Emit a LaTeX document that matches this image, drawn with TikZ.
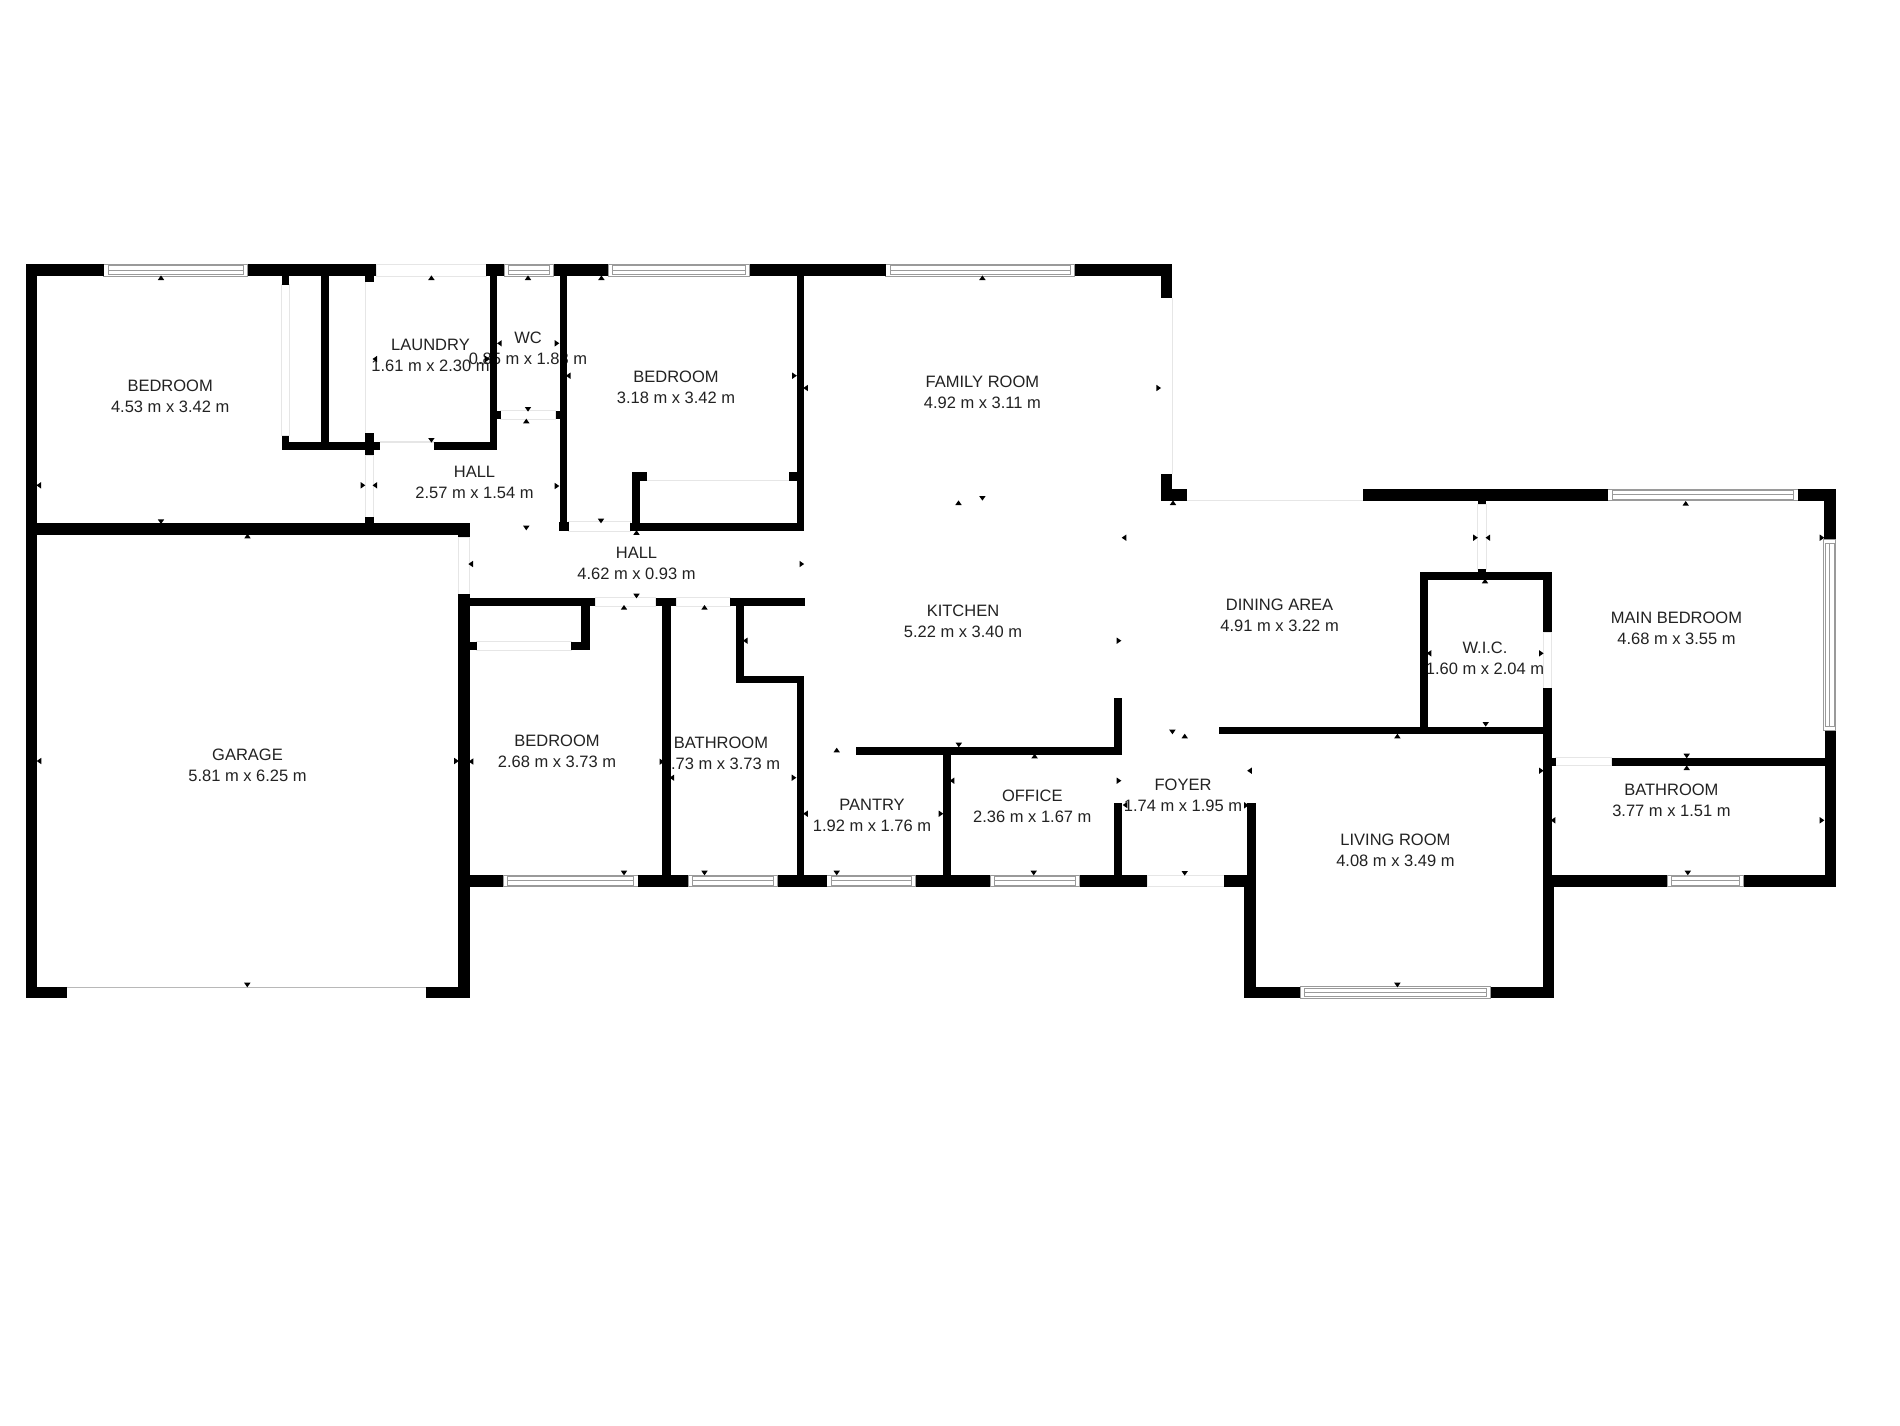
\documentclass[tikz,border=0pt]{standalone}
\usepackage{fontspec}
\setmainfont{Liberation Sans}
\definecolor{labelink}{HTML}{222222}
\definecolor{wingray}{HTML}{9A9A9A}
\definecolor{openline}{HTML}{E6E6E6}
\newcommand{\W}[4]{\fill[wall] (#1,#2) rectangle (#3,#4);}
\newcommand{\Op}[4]{\draw[opening] (#1,#2) rectangle (#3,#4);}
\newcommand{\WinH}[4]{%
  \draw[winframe] (#1,#2) rectangle (#3,#4);
  \draw[winframe] ({#1+4.5},{#2+1.5}) rectangle ({#3-4.5},{#4-1.5});
  \draw[winframe] ({#1+4.5},{(#2+#4)/2}) -- ({#3-4.5},{(#2+#4)/2});}
\newcommand{\WinV}[4]{%
  \draw[winframe] (#1,#2) rectangle (#3,#4);
  \draw[winframe] ({#1+1.5},{#2+4.5}) rectangle ({#3-1.5},{#4-4.5});
  \draw[winframe] ({(#1+#3)/2},{#2+4.5}) -- ({(#1+#3)/2},{#4-4.5});}
\tikzset{
  wall/.style={fill=black,draw=none},
  opening/.style={draw=openline,fill=white,line width=0.8pt},
  thinline/.style={draw=openline,line width=1.2pt},
  winframe/.style={draw=wingray,fill=white,line width=1pt},
  tick/.style={fill=black,draw=none},
  room/.style={inner sep=0pt,align=center,text=labelink,font=\fontsize{16.5}{21.2}\selectfont}
}
\begin{document}
\begin{tikzpicture}[x=1pt,y=-1pt]
\useasboundingbox (0,0) rectangle (1900,1425);
\fill[white] (0,0) rectangle (1900,1425);
% windows
\WinH{103.6}{264}{247.5}{276}
\WinH{504}{264}{553.6}{276}
\WinH{608}{264}{749.5}{276}
\WinH{885.5}{264}{1074.5}{276}
\WinH{503.4}{875}{638.3}{886.7}
\WinH{688}{875}{777.5}{886.7}
\WinH{826.6}{875}{915.7}{886.7}
\WinH{990}{875}{1079.6}{886.7}
\WinH{1607.7}{489}{1798}{500.7}
\WinH{1667.3}{875}{1743.9}{886.7}
\WinH{1300}{986.7}{1490.8}{998.3}
\WinV{1823.5}{539.3}{1835.7}{730.7}
% openings
\Op{376.4}{264}{486.4}{276}
\Op{281.5}{284.7}{289.4}{435.7}
\draw[thinline] (365.4,281.7) -- (365.4,433.3);
\draw[thinline] (379.6,442) -- (434,442);
\Op{500.6}{410.7}{555.5}{419}
\Op{365.4}{455.3}{373.7}{517.3}
\Op{458}{537.3}{469.8}{594.3}
\Op{568.6}{521.7}{630}{531}
\draw[thinline] (646.7,480.7) -- (789,480.7);
\Op{595}{597.7}{655.8}{606}
\Op{676}{597.7}{730}{606}
\Op{476.7}{641.7}{571}{650}
\draw[thinline] (1172.2,298.3) -- (1172.2,474.3);
\draw[thinline] (1186.7,500.4) -- (1362.8,500.4);
\Op{1477.6}{504.3}{1486}{569}
\Op{1542.9}{632.3}{1551.5}{688.3}
\Op{1555.6}{757.7}{1611.7}{765.7}
\Op{1147}{875}{1224}{886.7}
\draw[wingray!70,line width=1pt] (66.7,987) -- (426,987);
% room labels
\node[room] (bedroomA) at (170.2,396) {BEDROOM\\4.53 m x 3.42 m};
\node[room] (laundry) at (430.5,355.5) {LAUNDRY\\1.61 m x 2.30 m};
\node[room] (wc) at (528,348) {WC\\0.85 m x 1.83 m};
\node[room] (hallA) at (474.5,482) {HALL\\2.57 m x 1.54 m};
\node[room] (bedroomB) at (676,387) {BEDROOM\\3.18 m x 3.42 m};
\node[room] (family) at (982.4,392.7) {FAMILY ROOM\\4.92 m x 3.11 m};
\node[room] (hallB) at (636.5,563.7) {HALL\\4.62 m x 0.93 m};
\node[room] (kitchen) at (963,621.7) {KITCHEN\\5.22 m x 3.40 m};
\node[room] (bedroomC) at (557,751.7) {BEDROOM\\2.68 m x 3.73 m};
\node[room] (bathA) at (721,753.5) {BATHROOM\\1.73 m x 3.73 m};
\node[room] (pantry) at (872,815) {PANTRY\\1.92 m x 1.76 m};
\node[room] (office) at (1032.3,806.5) {OFFICE\\2.36 m x 1.67 m};
\node[room] (dining) at (1279.6,615.5) {DINING AREA\\4.91 m x 3.22 m};
\node[room] (wic) at (1485,658) {W.I.C.\\1.60 m x 2.04 m};
\node[room] (mainbed) at (1676.5,628) {MAIN BEDROOM\\4.68 m x 3.55 m};
\node[room] (foyer) at (1183,795.5) {FOYER\\1.74 m x 1.95 m};
\node[room] (living) at (1395.4,850) {LIVING ROOM\\4.08 m x 3.49 m};
\node[room] (bathB) at (1671.4,800.5) {BATHROOM\\3.77 m x 1.51 m};
\node[room] (garage) at (247.5,765) {GARAGE\\5.81 m x 6.25 m};
% measuring ticks
\foreach \x/\y in {161/277.7,431.4/277.7,528/277.7,601.4/277.7,526.3/421,247.5/536,636.5/532.5,624/607.3,704.5/607.3,958.5/502.7,836.7/750,1034.6/756,982.4/277.7,1173/502.7,1685.7/503.3,1485/581,1184.7/736,1397.4/736,1686.7/767.7}
  \fill[tick] (\x-3.2,\y+2.3) -- (\x+3.2,\y+2.3) -- (\x,\y-2.3) -- cycle;
\foreach \x/\y in {161/521.7,431.4/440.3,528/409.3,526.3/528,601/521,636.5/596,958.8/745,624/873,704.5/873,836.7/873,1033.7/873,982.4/498.3,1485.7/724.3,1172.4/732,1686.7/756,1687.8/873,1184.7/873.3,1397.4/985,247.3/985}
  \fill[tick] (\x-3.2,\y-2.3) -- (\x+3.2,\y-2.3) -- (\x,\y+2.3) -- cycle;
\foreach \x/\y in {38.7/485.3,374.8/485.3,374.8/359,499.4/343.3,568.2/375.7,470.7/564,1124/537.7,745.3/640.7,471/761.5,671.9/777.7,805.5/813.7,952/780.7,1125/805,805.6/388,1487.8/537.7,1429/653.3,1249.5/770.7,1553/820.3,39/761}
  \fill[tick] (\x+2.3,\y-3.2) -- (\x+2.3,\y+3.2) -- (\x-2.3,\y) -- cycle;
\foreach \x/\y in {363/485.3,557/343.3,557/486,487.5/359,801.8/564,1119/640.7,456.5/761,661.8/761.7,794/777.7,941/813.7,1119/780.7,794.5/375.7,1158.7/388,1475.5/537.7,1822/537.7,1541.3/653.3,1541.3/770.7,1246.4/805.3,1822/820.3}
  \fill[tick] (\x-2.3,\y-3.2) -- (\x-2.3,\y+3.2) -- (\x+2.3,\y) -- cycle;
% walls: top run and outer left
\W{26}{264}{103.6}{276}
\W{247.5}{264}{376.4}{276}
\W{486.4}{264}{504}{276}
\W{553.6}{264}{608}{276}
\W{749.5}{264}{885.5}{276}
\W{1074.5}{264}{1172.4}{276}
\W{26}{264}{37.3}{998.3}
% robe and laundry
\W{281.5}{276}{289.4}{284.7}
\W{321}{276}{329}{450}
\W{365.4}{276}{373.7}{281.7}
\W{281.5}{442}{379.6}{450}
\W{281.5}{435.7}{289.4}{450}
\W{365.4}{433.3}{373.7}{455.3}
\W{489.5}{276}{497.4}{450}
\W{434}{442}{497.4}{450}
\W{497.4}{410.7}{500.6}{419}
\W{555.5}{410.7}{559.5}{419}
\W{559.5}{276}{567}{531}
\W{559.4}{521.7}{568.6}{531}
% garage
\W{37}{522.7}{469.8}{535}
\W{458}{535}{469.8}{537.3}
\W{365.4}{517.3}{373.7}{522.7}
\W{458}{594.3}{470}{998.3}
\W{26}{986.7}{66.7}{998.3}
\W{426}{986.7}{470}{998.3}
% south bedrooms
\W{458}{597.7}{595}{606}
\W{581.4}{606}{590}{650}
\W{570.9}{641.7}{590}{650}
\W{470}{641.7}{476.7}{650}
\W{655.8}{597.7}{676}{606}
\W{730}{597.7}{804.5}{606}
\W{662}{606}{671}{875}
\W{735.7}{606}{744}{683.3}
\W{735.7}{676}{804}{683.3}
\W{796.8}{676}{804}{875}
% south wall
\W{470}{875}{503.4}{886.7}
\W{638.3}{875}{688}{886.7}
\W{777.5}{875}{826.6}{886.7}
\W{915.7}{875}{990}{886.7}
\W{1079.6}{875}{1147}{886.7}
\W{1224}{875}{1247}{886.7}
% pantry, office, kitchen
\W{942.8}{755}{950.6}{875}
\W{855.5}{746.7}{1121.8}{755}
\W{1114}{697.7}{1121.8}{755}
\W{1114}{803}{1121.8}{875}
% bedroom two and closet
\W{796.5}{276}{804.4}{531}
\W{629.7}{522.7}{804.4}{531}
\W{632.4}{472.3}{640.3}{531}
\W{632.4}{472.3}{646.7}{480.7}
\W{789}{472.3}{796.5}{480.7}
% family room and dining
\W{1161}{276}{1172.4}{298.3}
\W{1161}{474.3}{1172.4}{500.7}
\W{1161}{489}{1186.7}{500.7}
\W{1362.8}{489}{1607.7}{500.7}
\W{1798}{489}{1835.7}{500.7}
\W{1823.5}{500.7}{1835.7}{539.3}
\W{1477.6}{500.7}{1486}{504.3}
\W{1477.6}{569}{1486}{572.3}
% W.I.C. and living room
\W{1420}{572.3}{1551.5}{580}
\W{1420}{580}{1427.6}{727}
\W{1542.9}{580}{1551.5}{632.3}
\W{1542.9}{688.3}{1551.5}{875}
\W{1219.4}{726.7}{1551.5}{734.3}
\W{1542.9}{875}{1554}{998.3}
\W{1247}{803.3}{1255.6}{875}
\W{1244.4}{875}{1255.6}{998.3}
\W{1244.4}{986.7}{1300}{998.3}
\W{1490.8}{986.7}{1554}{998.3}
% main bathroom
\W{1551.5}{757.7}{1555.6}{765.7}
\W{1611.7}{757.7}{1824.5}{765.7}
\W{1824.5}{730.7}{1835.7}{886.7}
\W{1551.5}{875}{1667.3}{886.7}
\W{1743.9}{875}{1835.7}{886.7}
\end{tikzpicture}
\end{document}
